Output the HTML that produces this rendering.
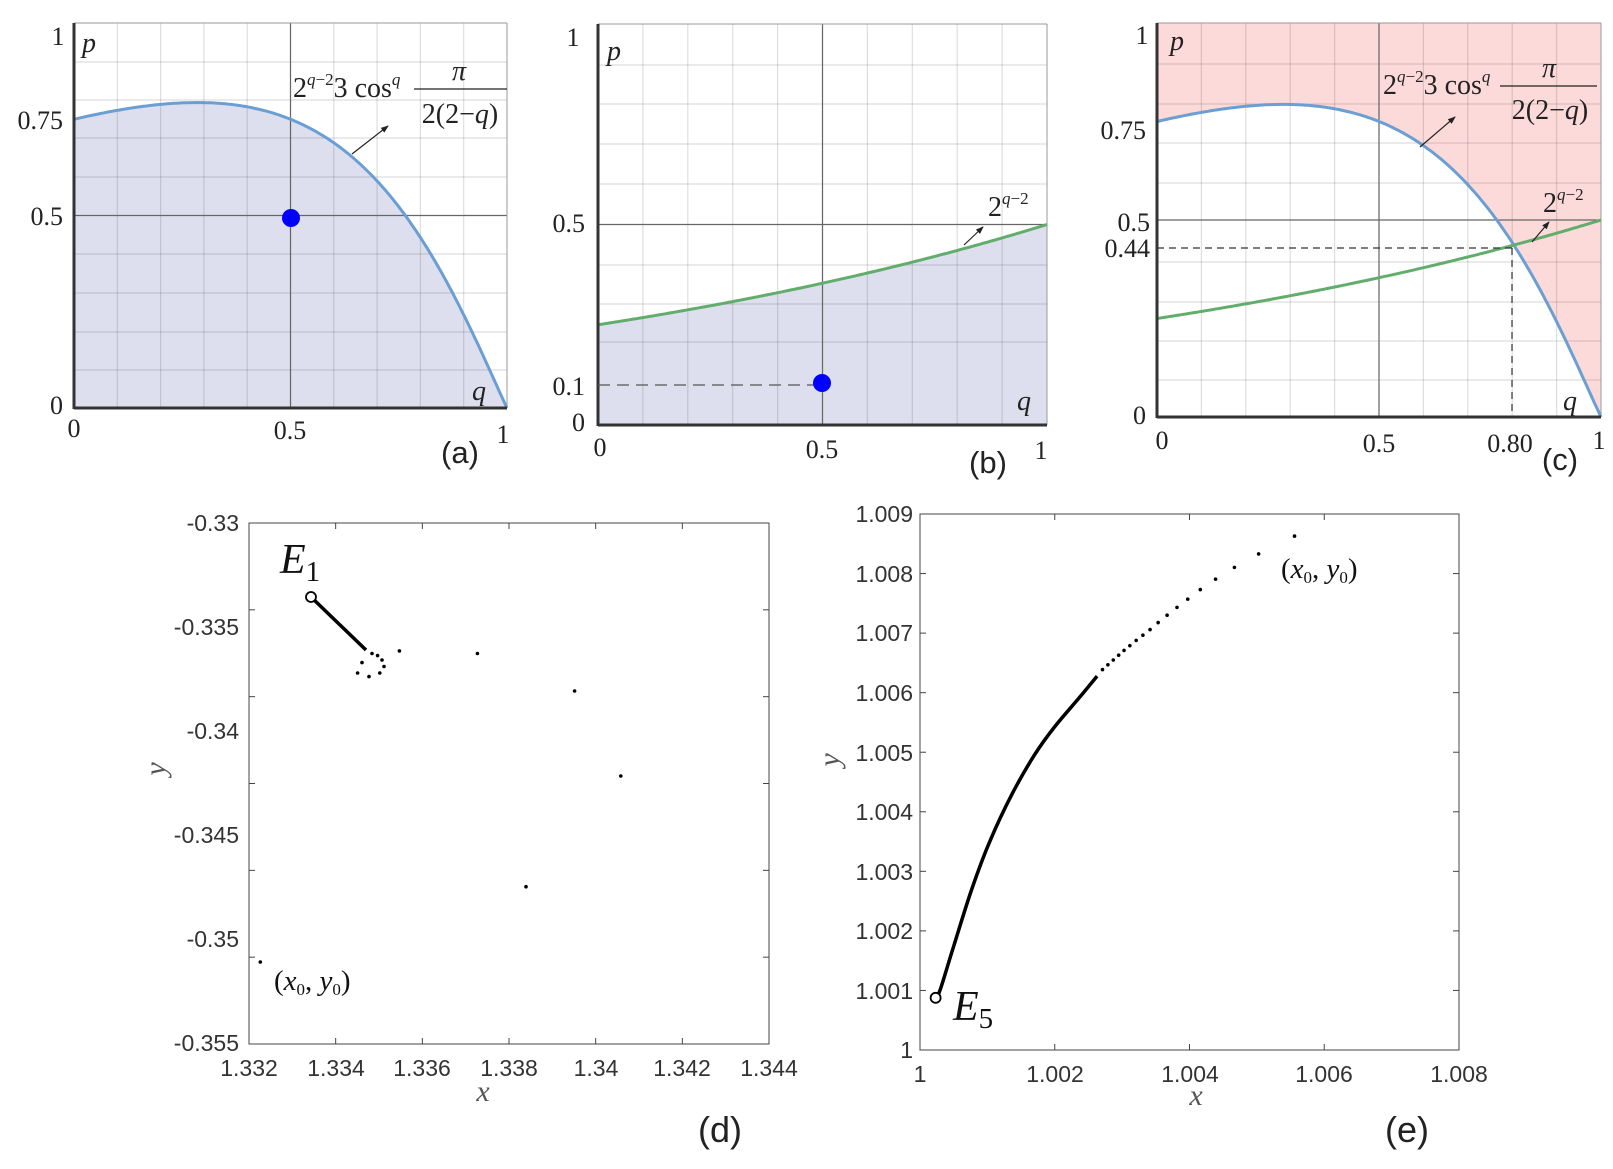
<!DOCTYPE html>
<html><head><meta charset="utf-8">
<style>
html,body{margin:0;padding:0;background:#fff;}
svg{display:block;}
.ser{font-family:"Liberation Serif",serif;}
.san{font-family:"Liberation Sans",sans-serif;}
</style></head>
<body>
<svg id="s" width="1613" height="1169" viewBox="0 0 1613 1169" xmlns="http://www.w3.org/2000/svg">
<g id="g"></g>
<defs>
<marker id="ar" markerWidth="8" markerHeight="8" refX="7" refY="4" orient="auto" markerUnits="userSpaceOnUse"><path d="M0,1 L8,4 L0,7 z" fill="#222"/></marker>
</defs>
<!-- text panel a -->
<g class="ser" font-size="26" fill="#222">
<text x="58" y="45" text-anchor="middle">1</text>
<text x="63" y="129" text-anchor="end">0.75</text>
<text x="63" y="225" text-anchor="end">0.5</text>
<text x="63" y="414" text-anchor="end">0</text>
<text x="74" y="437" text-anchor="middle">0</text>
<text x="290" y="439" text-anchor="middle">0.5</text>
<text x="503" y="443" text-anchor="middle">1</text>
<text x="82" y="52" font-style="italic" font-size="28">p</text>
<text x="472" y="400" font-style="italic" font-size="28">q</text>
<text x="293" y="97" font-size="28">2<tspan font-size="17" font-style="italic" dy="-12">q</tspan><tspan font-size="17" dy="0">−2</tspan><tspan dy="12">3</tspan><tspan> cos</tspan><tspan font-size="17" font-style="italic" dy="-12">q</tspan></text>
<text x="459" y="80" font-size="28" font-style="italic" text-anchor="middle">π</text>
<text x="460" y="123" font-size="28" text-anchor="middle">2(2−<tspan font-style="italic">q</tspan>)</text>
<line x1="414" y1="89" x2="507" y2="89" stroke="#222" stroke-width="1.3"/>
</g>
<text class="san" x="460" y="463" font-size="31" text-anchor="middle" fill="#222">(a)</text>
<!-- panel b -->
<g class="ser" font-size="26" fill="#222">
<text x="573" y="46" text-anchor="middle">1</text>
<text x="585" y="232" text-anchor="end">0.5</text>
<text x="585" y="395" text-anchor="end">0.1</text>
<text x="585" y="431" text-anchor="end">0</text>
<text x="600" y="456" text-anchor="middle">0</text>
<text x="822" y="458" text-anchor="middle">0.5</text>
<text x="1041" y="459" text-anchor="middle">1</text>
<text x="607" y="60" font-style="italic" font-size="28">p</text>
<text x="1017" y="410" font-style="italic" font-size="28">q</text>
<text x="988" y="216" font-size="28">2<tspan font-size="17" font-style="italic" dy="-12">q</tspan><tspan font-size="17">−2</tspan></text>
</g>
<text class="san" x="988" y="473" font-size="31" text-anchor="middle" fill="#222">(b)</text>
<!-- panel c -->
<g class="ser" font-size="26" fill="#222">
<text x="1142" y="44" text-anchor="middle">1</text>
<text x="1146" y="139" text-anchor="end">0.75</text>
<text x="1150" y="231" text-anchor="end">0.5</text>
<text x="1150" y="257" text-anchor="end">0.44</text>
<text x="1146" y="424" text-anchor="end">0</text>
<text x="1162" y="449" text-anchor="middle">0</text>
<text x="1379" y="452" text-anchor="middle">0.5</text>
<text x="1510" y="452" text-anchor="middle">0.80</text>
<text x="1599" y="449" text-anchor="middle">1</text>
<text x="1170" y="50" font-style="italic" font-size="28">p</text>
<text x="1563" y="410" font-style="italic" font-size="28">q</text>
<text x="1383" y="94" font-size="28">2<tspan font-size="17" font-style="italic" dy="-12">q</tspan><tspan font-size="17">−2</tspan><tspan dy="12">3</tspan><tspan> cos</tspan><tspan font-size="17" font-style="italic" dy="-12">q</tspan></text>
<text x="1549" y="77" font-size="28" font-style="italic" text-anchor="middle">π</text>
<text x="1550" y="119" font-size="28" text-anchor="middle">2(2−<tspan font-style="italic">q</tspan>)</text>
<line x1="1500" y1="86" x2="1597" y2="86" stroke="#222" stroke-width="1.3"/>
<text x="1543" y="212" font-size="28">2<tspan font-size="17" font-style="italic" dy="-12">q</tspan><tspan font-size="17">−2</tspan></text>
</g>
<text class="san" x="1560" y="470" font-size="31" text-anchor="middle" fill="#222">(c)</text>
<!-- panel d labels -->
<g class="san" font-size="23" fill="#333">
<text x="239" y="531" text-anchor="end">-0.33</text>
<text x="239" y="635" text-anchor="end">-0.335</text>
<text x="239" y="739" text-anchor="end">-0.34</text>
<text x="239" y="843" text-anchor="end">-0.345</text>
<text x="239" y="947" text-anchor="end">-0.35</text>
<text x="239" y="1051" text-anchor="end">-0.355</text>
<text x="249" y="1076" text-anchor="middle">1.332</text>
<text x="336" y="1076" text-anchor="middle">1.334</text>
<text x="422" y="1076" text-anchor="middle">1.336</text>
<text x="509" y="1076" text-anchor="middle">1.338</text>
<text x="596" y="1076" text-anchor="middle">1.34</text>
<text x="682" y="1076" text-anchor="middle">1.342</text>
<text x="769" y="1076" text-anchor="middle">1.344</text>
</g>
<text class="ser" x="483" y="1101" font-size="30" font-style="italic" text-anchor="middle" fill="#555">x</text>
<text class="ser" x="0" y="0" font-size="30" font-style="italic" text-anchor="middle" fill="#555" transform="translate(165,769) rotate(-90)">y</text>
<text class="ser" x="280" y="573" font-size="42" font-style="italic" fill="#111">E<tspan font-style="normal" font-size="29" dy="8">1</tspan></text>
<text class="ser" x="274" y="990" font-size="29" fill="#111">(<tspan font-style="italic">x</tspan><tspan font-size="17" dy="5">0</tspan><tspan dy="-5">, </tspan><tspan font-style="italic">y</tspan><tspan font-size="17" dy="5">0</tspan><tspan dy="-5">)</tspan></text>
<text class="san" x="720" y="1142" font-size="36" text-anchor="middle" fill="#222">(d)</text>
<!-- panel e labels -->
<g class="san" font-size="23" fill="#333">
<text x="913" y="522" text-anchor="end">1.009</text>
<text x="913" y="582" text-anchor="end">1.008</text>
<text x="913" y="641" text-anchor="end">1.007</text>
<text x="913" y="701" text-anchor="end">1.006</text>
<text x="913" y="761" text-anchor="end">1.005</text>
<text x="913" y="820" text-anchor="end">1.004</text>
<text x="913" y="880" text-anchor="end">1.003</text>
<text x="913" y="939" text-anchor="end">1.002</text>
<text x="913" y="999" text-anchor="end">1.001</text>
<text x="913" y="1058" text-anchor="end">1</text>
<text x="920" y="1082" text-anchor="middle">1</text>
<text x="1055" y="1082" text-anchor="middle">1.002</text>
<text x="1190" y="1082" text-anchor="middle">1.004</text>
<text x="1324" y="1082" text-anchor="middle">1.006</text>
<text x="1459" y="1082" text-anchor="middle">1.008</text>
</g>
<text class="ser" x="1196" y="1105" font-size="30" font-style="italic" text-anchor="middle" fill="#555">x</text>
<text class="ser" x="0" y="0" font-size="30" font-style="italic" text-anchor="middle" fill="#555" transform="translate(839,760) rotate(-90)">y</text>
<text class="ser" x="953" y="1020" font-size="42" font-style="italic" fill="#111">E<tspan font-style="normal" font-size="29" dy="8">5</tspan></text>
<text class="ser" x="1281" y="578" font-size="29" fill="#111">(<tspan font-style="italic">x</tspan><tspan font-size="17" dy="5">0</tspan><tspan dy="-5">, </tspan><tspan font-style="italic">y</tspan><tspan font-size="17" dy="5">0</tspan><tspan dy="-5">)</tspan></text>
<text class="san" x="1407" y="1142" font-size="36" text-anchor="middle" fill="#222">(e)</text>
</svg>
<script>
(function(){
var NS="http://www.w3.org/2000/svg",G=document.getElementById('g');
function el(t,a){var e=document.createElementNS(NS,t);for(var k in a)e.setAttribute(k,a[k]);G.appendChild(e);return e;}
function f(q){return Math.pow(2,q-2)*3*Math.pow(Math.cos(Math.PI/(2*(2-q))),q);}
function g2(q){return Math.pow(2,q-2);}
function panel(X0,X1,Y0,Y1,opt){
 var W=X1-X0,H=Y0-Y1;
 function px(q){return X0+q*W;} function py(p){return Y0-p*H;}
 function path(fn){var d="";for(var i=0;i<=200;i++){var q=i/200;var v=Math.max(0,fn(q));d+=(i?"L":"M")+px(q).toFixed(1)+","+py(v).toFixed(1);}return d;}
 el('rect',{x:X0,y:Y1,width:W,height:H,fill:opt.bg});
 if(opt.fillBelow) el('path',{d:path(opt.fillBelow)+"L"+X1+","+Y0+"L"+X0+","+Y0+"Z",fill:"#dedfee"});
 if(opt.fillAbove) el('path',{d:path(opt.fillAbove)+"L"+X1+","+Y1+"L"+X0+","+Y1+"Z",fill:"#fcdada"});
 for(var i=1;i<10;i++){el('line',{x1:px(i/10),y1:Y1,x2:px(i/10),y2:Y0,stroke:"#000","stroke-opacity":0.13,"stroke-width":1.2});}
 opt.hy.forEach(function(y){el('line',{x1:X0,y1:y,x2:X1,y2:y,stroke:"#000","stroke-opacity":0.13,"stroke-width":1.2});});
 el('line',{x1:px(.5),y1:Y1,x2:px(.5),y2:Y0,stroke:"#666","stroke-width":1.2});
 el('line',{x1:X0,y1:py(.5),x2:X1,y2:py(.5),stroke:"#666","stroke-width":1.2});
 el('line',{x1:X0,y1:Y1,x2:X1,y2:Y1,stroke:"#999","stroke-width":1});
 el('line',{x1:X1,y1:Y1,x2:X1,y2:Y0,stroke:"#999","stroke-width":1});
 if(opt.blue) el('path',{d:path(f),fill:"none",stroke:"#6b9ed2","stroke-width":3});
 if(opt.green) el('path',{d:path(g2),fill:"none",stroke:"#62ad6c","stroke-width":3});
 el('line',{x1:X0,y1:Y1,x2:X0,y2:Y0+1,stroke:"#333","stroke-width":3});
 el('line',{x1:X0,y1:Y0,x2:X1,y2:Y0,stroke:"#333","stroke-width":3});
 return {px:px,py:py};
}
panel(74,507,408,23,{bg:"#fff",fillBelow:f,blue:1,hy:[62,100,138,177,254,293,332,370]});
el('line',{x1:352,y1:154,x2:388,y2:126,stroke:"#222","stroke-width":1.2,"marker-end":"url(#ar)"});
el('circle',{cx:291,cy:218,r:9,fill:"#0000ff"});
panel(598,1047,425,24,{bg:"#fff",fillBelow:g2,green:1,hy:[65,104,144,184,265,304,342]});
el('line',{x1:598,y1:385,x2:815,y2:385,stroke:"#555","stroke-width":1.3,"stroke-dasharray":"12,7"});
el('circle',{cx:822,cy:383,r:9,fill:"#0000ff"});
el('line',{x1:964,y1:245,x2:983,y2:227,stroke:"#222","stroke-width":1.2,"marker-end":"url(#ar)"});
panel(1157,1601,417,23,{bg:"#fff",fillAbove:f,blue:1,green:1,hy:[64,104,143,183,262,302,341,380]});
el('line',{x1:1157,y1:248,x2:1512,y2:248,stroke:"#333","stroke-width":1.2,"stroke-dasharray":"7,5"});
el('line',{x1:1512,y1:248,x2:1512,y2:417,stroke:"#333","stroke-width":1.2,"stroke-dasharray":"7,5"});
el('line',{x1:1420,y1:147,x2:1455,y2:117,stroke:"#222","stroke-width":1.2,"marker-end":"url(#ar)"});
el('line',{x1:1532,y1:242,x2:1549,y2:222,stroke:"#222","stroke-width":1.2,"marker-end":"url(#ar)"});
function box(x0,x1,y0,y1,xt,yt){
 el('rect',{x:x0,y:y0,width:x1-x0,height:y1-y0,fill:"none",stroke:"#444","stroke-width":1});
 xt.forEach(function(x){el('line',{x1:x,y1:y1,x2:x,y2:y1-6,stroke:"#444"});el('line',{x1:x,y1:y0,x2:x,y2:y0+6,stroke:"#444"});});
 yt.forEach(function(y){el('line',{x1:x0,y1:y,x2:x0+6,y2:y,stroke:"#444"});el('line',{x1:x1,y1:y,x2:x1-6,y2:y,stroke:"#444"});});
}
var xt=[],yt=[];for(var i=0;i<=6;i++){xt.push(249+i*520/6);yt.push(523+i*521/6);}
box(249,769,523,1044,xt,yt);
el('line',{x1:311,y1:597,x2:366,y2:650,stroke:"#000","stroke-width":3.5});
[[372,653.5],[377.6,655.6],[382,660],[384,666.5],[379.8,673],[369,676.6],[357.6,673],[362,662.6],[399.4,650.9],[477.4,653.5],[574.6,691],[620.8,776],[526,886.7],[260.3,962]].forEach(function(p){el('circle',{cx:p[0],cy:p[1],r:1.8,fill:"#000"});});
el('circle',{cx:311,cy:597,r:5,fill:"#fff",stroke:"#000","stroke-width":1.8});
// panel e
xt=[];yt=[];for(var i=0;i<=4;i++)xt.push(920+i*539/4);for(var i=0;i<=9;i++)yt.push(514+i*536/9);
box(920,1459,514,1050,xt,yt);
function E(zx,zy){return [810+zx/2.229,490+zy/2.30];}
var cz=[[280,1168],[290,1150],[320,1050],[360,920],[400,810],[450,700],[500,610],[545,545],[600,478],[640,428]].map(function(p){return E(p[0],p[1]);});
// catmull-rom smoothing
var d="M"+cz[0][0].toFixed(1)+","+cz[0][1].toFixed(1);
for(var i=0;i<cz.length-1;i++){
 var p0=cz[Math.max(0,i-1)],p1=cz[i],p2=cz[i+1],p3=cz[Math.min(cz.length-1,i+2)];
 var c1=[p1[0]+(p2[0]-p0[0])/6,p1[1]+(p2[1]-p0[1])/6],c2=[p2[0]-(p3[0]-p1[0])/6,p2[1]-(p3[1]-p1[1])/6];
 d+="C"+c1[0].toFixed(1)+","+c1[1].toFixed(1)+" "+c2[0].toFixed(1)+","+c2[1].toFixed(1)+" "+p2[0].toFixed(1)+","+p2[1].toFixed(1);
}
el('path',{d:d,fill:"none",stroke:"#000","stroke-width":3.5,"stroke-linejoin":"round"});
[[652,413],[664,402],[676,391],[688,380],[700,369],[713,358],[727,346],[742,334],[758,321],[776,305],[796,288],[818,270],[842,251],[870,229],[904,205],[946,178],[1000,147],[1080,106]].forEach(function(p){var q=E(p[0],p[1]);el('circle',{cx:q[0],cy:q[1],r:1.8,fill:"#000"});});
var s=E(280,1168);el('circle',{cx:s[0],cy:s[1],r:5,fill:"#fff",stroke:"#000","stroke-width":1.8});
})();
</script>
</body></html>
